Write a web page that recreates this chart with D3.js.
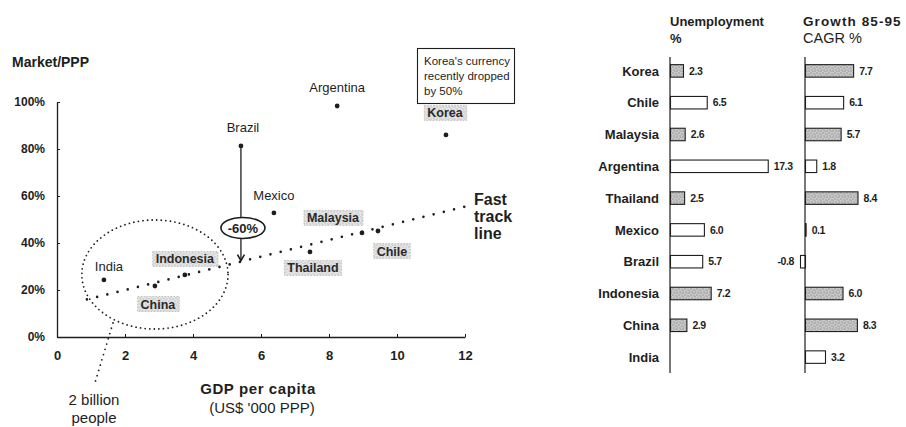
<!DOCTYPE html>
<html>
<head>
<meta charset="utf-8">
<script src="https://cdn.jsdelivr.net/npm/d3@7"></script>
<style>
  html, body { margin: 0; padding: 0; background: #fff; }
  svg { display: block; font-family: Arial, "Liberation Sans", sans-serif; }
</style>
</head>
<body>
<svg id="chart" width="906" height="427"></svg>
<script>
// ---- Scatter: market exchange rate vs purchasing power parity ----
const countries   = ["Korea", "Argentina", "Brazil", "Mexico", "Malaysia", "Chile", "Thailand", "Indonesia", "China", "India"];
const gdpPerCapita = [11.44, 8.24, 5.41, 6.38, 8.97, 9.44, 7.44, 3.76, 2.88, 1.38];   // US$ '000 PPP
const marketPpp    = [86, 98.3, 81.3, 52.8, 44.3, 45.1, 36.2, 26.4, 21.7, 24.3];     // %
const shadedLabels = ["Korea", "Malaysia", "Chile", "Thailand", "Indonesia", "China"];

const xTicks = [0, 2, 4, 6, 8, 10, 12];
const yTicks = [0, 20, 40, 60, 80, 100];

// Fast track line end points [gdp, market/ppp]
const fastTrack = [[0.88, 16], [12.15, 56]];
// Brazil's currency fall
const brazilDrop = -60;

// ---- Side bars ----
const barCountries  = ["Korea", "Chile", "Malaysia", "Argentina", "Thailand", "Mexico", "Brazil", "Indonesia", "China", "India"];
const unemployment  = [2.3, 6.5, 2.6, 17.3, 2.5, 6.0, 5.7, 7.2, 2.9, null];
const growth8595    = [7.7, 6.1, 5.7, 1.8, 8.4, 0.1, -0.8, 6.0, 8.3, 3.2];
const unempShaded   = ["Korea", "Malaysia", "Thailand", "Indonesia", "China"];
const growthShaded  = ["Korea", "Malaysia", "Thailand", "Indonesia", "China"];

// label placement around each point (pixels)
const labelOffset = {
  Korea: [-1, -22], Argentina: [0, -19], Brazil: [2, -19], Mexico: [0, -18],
  Malaysia: [-29, -15], Chile: [14, 20], Thailand: [3, 16], Indonesia: [0, -16],
  China: [3, 18], India: [5, -14]
};

const ink = "#1e1e1e";
const svg = d3.select("#chart");

// stipple fills
const defs = svg.append("defs");
function stipple(id, bg, dot, n) {
  const p = defs.append("pattern").attr("id", id).attr("patternUnits", "userSpaceOnUse")
    .attr("width", 6).attr("height", 6);
  p.append("rect").attr("width", 6).attr("height", 6).attr("fill", bg);
  const pts = [[0.5,0.5],[3.5,1.5],[1.5,3.5],[4.5,4.5],[2.5,5.5],[5.5,2.5],[0.5,4.5],[3.5,3.5]].slice(0, n);
  pts.forEach(([x, y]) => p.append("rect").attr("x", x).attr("y", y).attr("width", 1).attr("height", 1).attr("fill", dot));
}
stipple("barFill", "#c9c9c9", "#6a6a6a", 6);
stipple("labelFill", "#e4e4e4", "#a8a8a8", 5);

// ================= scatter =================
const x = d3.scaleLinear().domain([0, 12]).range([57, 465]);
const y = d3.scaleLinear().domain([0, 100]).range([337, 102]);

const plot = svg.append("g");

// axes
const yAxis = plot.append("g").attr("transform", `translate(${x(0)},0)`)
  .call(d3.axisLeft(y).tickValues(yTicks).tickFormat(d => d + "%").tickSizeInner(-3).tickSizeOuter(0).tickPadding(12));
const xAxis = plot.append("g").attr("transform", `translate(0,${y(0)})`)
  .call(d3.axisBottom(x).tickValues(xTicks).tickSizeInner(-3).tickSizeOuter(0).tickPadding(14));
[yAxis, xAxis].forEach(a => {
  a.select(".domain").attr("stroke", ink).attr("stroke-width", 1.3);
  a.selectAll(".tick line").attr("stroke", ink);
  a.selectAll(".tick text").attr("fill", ink).attr("font-weight", "bold").attr("font-size", 12).attr("font-family", "Arial, 'Liberation Sans', sans-serif");
});
xAxis.selectAll(".tick text").attr("font-size", 13);

// axis titles
svg.append("text").attr("x", 12).attr("y", 67).attr("font-size", 14).attr("font-weight", "bold").attr("fill", ink).text("Market/PPP");
svg.append("text").attr("x", 258).attr("y", 394).attr("text-anchor", "middle").attr("font-size", 15).attr("font-weight", "bold")
  .attr("letter-spacing", 0.6).attr("fill", ink).text("GDP per capita");
svg.append("text").attr("x", 262).attr("y", 413).attr("text-anchor", "middle").attr("font-size", 15).attr("fill", ink).text("(US$ '000 PPP)");

// fast track line (dotted)
plot.append("line")
  .attr("x1", x(fastTrack[0][0])).attr("y1", y(fastTrack[0][1]))
  .attr("x2", x(fastTrack[1][0])).attr("y2", y(fastTrack[1][1]))
  .attr("stroke", ink).attr("stroke-width", 2.6).attr("stroke-linecap", "round").attr("stroke-dasharray", "0 10.5");
const ft = svg.append("text").attr("x", 474).attr("font-size", 16).attr("font-weight", "bold").attr("fill", ink);
["Fast", "track", "line"].forEach((t, i) => ft.append("tspan").attr("x", 474).attr("y", 205 + i * 17).text(t));

// ellipse round the low-income group
const grp = { cx: 2.88, cy: 26.6, rx: 2.15, ry: 23.2 };
plot.append("ellipse")
  .attr("cx", x(grp.cx)).attr("cy", y(grp.cy))
  .attr("rx", x(grp.cx + grp.rx) - x(grp.cx)).attr("ry", y(grp.cy) - y(grp.cy + grp.ry))
  .attr("fill", "none").attr("stroke", ink).attr("stroke-width", 1.8).attr("stroke-linecap", "round").attr("stroke-dasharray", "0 4.6");
plot.append("line").attr("x1", 113).attr("y1", 323).attr("x2", 94).attr("y2", 386)
  .attr("stroke", ink).attr("stroke-width", 1.8).attr("stroke-linecap", "round").attr("stroke-dasharray", "0 5.5");
svg.append("text").attr("x", 94).attr("y", 405).attr("text-anchor", "middle").attr("font-size", 15).attr("fill", ink).text("2 billion");
svg.append("text").attr("x", 94).attr("y", 423).attr("text-anchor", "middle").attr("font-size", 15).attr("fill", ink).text("people");

// Brazil drop callout
const bi = countries.indexOf("Brazil");
const bx = x(gdpPerCapita[bi]);
const bTop = y(marketPpp[bi]);
const bEnd = y(marketPpp[bi] * (1 + brazilDrop / 100));
const calloutY = y(46.4), cRx = 22, cRy = 10.5;
plot.append("line").attr("x1", bx).attr("y1", bTop).attr("x2", bx).attr("y2", calloutY - cRy).attr("stroke", ink).attr("stroke-width", 1.3);
plot.append("line").attr("x1", bx).attr("y1", calloutY + cRy).attr("x2", bx).attr("y2", bEnd).attr("stroke", ink).attr("stroke-width", 1.3);
plot.append("path").attr("d", `M${bx - 3.5},${bEnd - 6}L${bx},${bEnd}L${bx + 3.5},${bEnd - 6}`)
  .attr("fill", "none").attr("stroke", ink).attr("stroke-width", 1.6);
plot.append("ellipse").attr("cx", bx + 2).attr("cy", calloutY).attr("rx", cRx).attr("ry", cRy)
  .attr("fill", "#fff").attr("stroke", ink).attr("stroke-width", 1.6);
plot.append("text").attr("x", bx + 2).attr("y", calloutY).attr("dy", "0.36em").attr("text-anchor", "middle")
  .attr("font-size", 13).attr("font-weight", "bold").attr("fill", ink).text(brazilDrop + "%");

// Korea note
svg.append("rect").attr("x", 417.5).attr("y", 48.5).attr("width", 97).attr("height", 55).attr("fill", "#fff").attr("stroke", ink).attr("stroke-width", 1.1);
["Korea's currency", "recently dropped", "by 50%"].forEach((t, i) =>
  svg.append("text").attr("x", 424).attr("y", 65 + i * 15).attr("font-size", 11.5).attr("fill", ink).text(t));

// points
const pts = countries.map((c, i) => ({ c, gx: gdpPerCapita[i], m: marketPpp[i] }));
plot.selectAll("circle.pt").data(pts).join("circle").attr("class", "pt")
  .attr("cx", d => x(d.gx)).attr("cy", d => y(d.m)).attr("r", 2.4).attr("fill", ink);

// point labels
pts.forEach(d => {
  const [dx, dy] = labelOffset[d.c];
  const lx = x(d.gx) + dx, ly = y(d.m) + dy;
  const shaded = shadedLabels.includes(d.c);
  const g = plot.append("g");
  const t = g.append("text").attr("x", lx).attr("y", ly).attr("dy", "0.36em").attr("text-anchor", "middle")
    .attr("font-size", shaded ? 12.5 : 13).attr("font-weight", shaded ? "bold" : "normal")
    .attr("fill", shaded ? "#2a2a2a" : ink).text(d.c);
  if (shaded) {
    const bb = t.node().getBBox();
    g.insert("rect", "text").attr("x", bb.x - 3).attr("y", ly - 7.5).attr("width", bb.width + 6).attr("height", 15)
      .attr("fill", "url(#labelFill)").attr("stroke", "#b8b8b8").attr("stroke-width", 0.8).attr("stroke-dasharray", "1.5 1.5");
  }
});

// ================= side bars =================
const band = d3.scaleBand().domain(barCountries).range([55, 373]);
const barH = 12.5;
const ux = d3.scaleLinear().domain([0, 20]).range([670, 783]);
const gx = d3.scaleLinear().domain([0, 10]).range([805, 867.5]);
const fmt = d3.formatLocale({ decimal: ".", thousands: ",", grouping: [3], currency: ["$", ""], minus: "-" }).format(".1f");

// headers
svg.append("text").attr("x", 670).attr("y", 26).attr("font-size", 13).attr("font-weight", "bold").attr("fill", ink).text("Unemployment");
svg.append("text").attr("x", 670).attr("y", 43).attr("font-size", 13).attr("font-weight", "bold").attr("fill", ink).text("%");
svg.append("text").attr("x", 803).attr("y", 26).attr("font-size", 13.5).attr("font-weight", "bold").attr("letter-spacing", 1.1).attr("fill", ink).text("Growth 85-95");
svg.append("text").attr("x", 803).attr("y", 43).attr("font-size", 14.5).attr("fill", ink).text("CAGR %");

// row labels
svg.selectAll("text.row").data(barCountries).join("text").attr("class", "row")
  .attr("x", 659).attr("y", d => band(d) + band.bandwidth() / 2).attr("dy", "0.36em").attr("text-anchor", "end")
  .attr("font-size", 13).attr("font-weight", "bold").attr("fill", ink).text(d => d);

function barPanel(scale, values, shaded) {
  const g = svg.append("g");
  const rows = barCountries.map((c, i) => ({ c, v: values[i] })).filter(d => d.v !== null);
  g.selectAll("rect").data(rows).join("rect")
    .attr("x", d => scale(Math.min(0, d.v)) + 0.5)
    .attr("y", d => band(d.c) + band.bandwidth() / 2 - barH / 2)
    .attr("width", d => Math.abs(scale(d.v) - scale(0)))
    .attr("height", barH)
    .attr("fill", d => shaded.includes(d.c) ? "url(#barFill)" : "#fff")
    .attr("stroke", ink).attr("stroke-width", 1.1);
  g.selectAll("text").data(rows).join("text")
    .attr("x", d => d.v < 0 ? scale(d.v) - 6 : scale(d.v) + 6)
    .attr("y", d => band(d.c) + band.bandwidth() / 2).attr("dy", "0.36em")
    .attr("text-anchor", d => d.v < 0 ? "end" : "start")
    .attr("font-size", 10.5).attr("font-weight", "bold").attr("letter-spacing", -0.4).attr("fill", ink)
    .text(d => fmt(d.v));
  g.append("line").attr("x1", scale(0)).attr("x2", scale(0)).attr("y1", 57).attr("y2", 373)
    .attr("stroke", ink).attr("stroke-width", 1.2);
}
barPanel(ux, unemployment, unempShaded);
barPanel(gx, growth8595, growthShaded);
</script>
</body>
</html>
